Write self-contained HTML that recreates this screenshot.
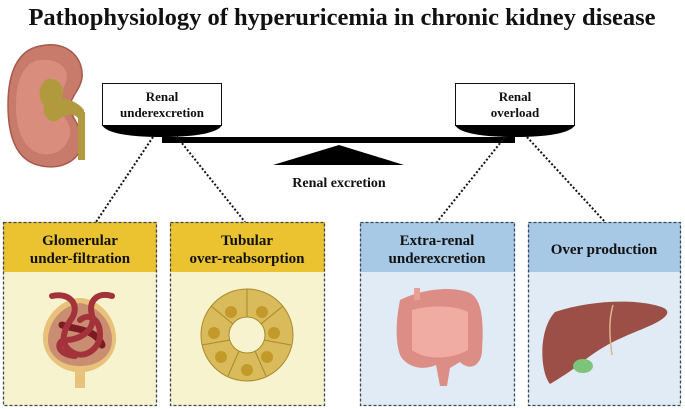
<!DOCTYPE html>
<html><head><style>
html,body{margin:0;padding:0;background:#fff}
svg{display:block}
text{font-family:"Liberation Serif",serif;font-weight:bold;fill:#111}
</style></head><body>
<svg width="685" height="409" viewBox="0 0 685 409">
<text x="342" y="25" text-anchor="middle" font-size="24.5">Pathophysiology of hyperuricemia in chronic kidney disease</text>

<!-- kidney -->
<path d="M40,46 C65,40 84,56 82,78 C80,90 72,95 70,105 C70,118 82,125 82,140 C82,160 62,170 42,166 C18,162 8,140 8,105 C8,72 18,50 40,46Z" fill="#c97b6b" stroke="#a65a4d" stroke-width="1.5"/>
<path d="M40,60 C58,58 70,68 66,82 C62,92 58,100 60,108 C64,118 72,125 70,135 C66,150 54,156 42,154 C24,150 16,132 16,105 C16,80 24,62 40,60Z" fill="#d98d7d"/>
<path d="M45,80 C58,75 66,88 62,98 C70,100 78,102 84,110 L84,158 L78,158 L78,118 C72,112 64,115 58,120 C50,125 42,115 44,105 C38,100 38,88 45,80Z" fill="#b19a3d"/>
<rect x="78" y="112" width="7" height="48" fill="#b19a3d"/>

<!-- balance -->
<rect x="102.5" y="83.5" width="119" height="42" fill="#fff" stroke="#111"/>
<path d="M102,125 L222,125 C218,133 195,137 162,137 C128,137 106,133 102,125Z" fill="#000"/>
<text x="162" y="101" text-anchor="middle" font-size="13">Renal</text>
<text x="162" y="117" text-anchor="middle" font-size="13">underexcretion</text>
<rect x="455.5" y="83.5" width="119" height="42" fill="#fff" stroke="#111"/>
<path d="M455,125 L575,125 C571,133 548,137 515,137 C481,137 459,133 455,125Z" fill="#000"/>
<text x="515" y="101" text-anchor="middle" font-size="13">Renal</text>
<text x="515" y="117" text-anchor="middle" font-size="13">overload</text>
<rect x="162" y="137" width="353" height="6" fill="#000"/>
<polygon points="273,165 339,145 404,165" fill="#000"/>
<text x="339" y="187" text-anchor="middle" font-size="14">Renal excretion</text>

<!-- dotted connectors -->
<g stroke="#111" stroke-width="2" stroke-dasharray="2 2" fill="none">
<line x1="153" y1="137" x2="96" y2="222"/>
<line x1="177" y1="137" x2="245" y2="222"/>
<line x1="505" y1="137" x2="437" y2="222"/>
<line x1="527" y1="137" x2="605" y2="222"/>
</g>

<!-- boxes -->
<g>
<rect x="3" y="222" width="154" height="184" fill="#f8f3cf"/>
<rect x="3" y="222" width="154" height="50" fill="#ebc22f"/>
<rect x="3.5" y="222.5" width="153" height="183" fill="none" stroke="#3b4657" stroke-width="1.3" stroke-dasharray="3 2"/>
<text x="80" y="245" text-anchor="middle" font-size="15">Glomerular</text>
<text x="80" y="263" text-anchor="middle" font-size="15">under-filtration</text>

<rect x="170" y="222" width="155" height="184" fill="#f8f3cf"/>
<rect x="170" y="222" width="155" height="50" fill="#ebc22f"/>
<rect x="170.5" y="222.5" width="154" height="183" fill="none" stroke="#3b4657" stroke-width="1.3" stroke-dasharray="3 2"/>
<text x="247" y="245" text-anchor="middle" font-size="15">Tubular</text>
<text x="247" y="263" text-anchor="middle" font-size="15">over-reabsorption</text>

<rect x="360" y="222" width="155" height="184" fill="#e0ebf5"/>
<rect x="360" y="222" width="155" height="50" fill="#a7c9e6"/>
<rect x="360.5" y="222.5" width="154" height="183" fill="none" stroke="#3b4657" stroke-width="1.3" stroke-dasharray="3 2"/>
<text x="437" y="245" text-anchor="middle" font-size="15">Extra-renal</text>
<text x="437" y="263" text-anchor="middle" font-size="15">underexcretion</text>

<rect x="528" y="222" width="153" height="184" fill="#e0ebf5"/>
<rect x="528" y="222" width="153" height="50" fill="#a7c9e6"/>
<rect x="528.5" y="222.5" width="152" height="183" fill="none" stroke="#3b4657" stroke-width="1.3" stroke-dasharray="3 2"/>
<text x="604" y="254" text-anchor="middle" font-size="15">Over production</text>
</g>

<!-- glomerulus -->
<path d="M78,298 C60,300 42,318 43,340 C44,358 60,370 75,372 L75,388 L85,388 L85,372 C100,370 115,358 116,340 C117,318 100,300 82,298Z" fill="#e8c27a"/>
<path d="M80,303 C64,305 48,320 48,340 C48,356 62,366 80,366 C98,366 112,356 112,340 C112,320 96,305 80,303Z" fill="#c98d72"/>
<g fill="none" stroke-linecap="round">
<path d="M62,325 C75,330 95,328 102,345" stroke="#7d1a22" stroke-width="7"/>
<g stroke="#a3323a" stroke-width="6">
<path d="M52,296 C70,292 80,305 72,318 C62,332 60,345 72,352 C85,360 100,348 100,335 C100,320 90,312 80,320"/>
<path d="M112,296 C98,292 88,300 92,315 C96,330 80,340 65,340 C55,342 58,355 75,356"/>
</g>
</g>

<!-- tubule -->
<circle cx="247" cy="335" r="46" fill="#d9bb5c" stroke="#a8892d"/>
<circle cx="247" cy="335" r="18" fill="#f8f3cf" stroke="#a8892d"/>
<g stroke="#a8892d" stroke-width="1">
<line x1="247" y1="289" x2="247" y2="317"/><line x1="283" y1="306" x2="261" y2="324"/>
<line x1="291" y1="345" x2="264" y2="340"/><line x1="266" y1="376" x2="255" y2="351"/>
<line x1="228" y1="376" x2="239" y2="351"/><line x1="202" y1="345" x2="230" y2="340"/>
<line x1="211" y1="306" x2="233" y2="324"/>
</g>
<g fill="#c39a2a">
<circle cx="231" cy="312" r="6"/><circle cx="262" cy="312" r="6"/><circle cx="274" cy="333" r="6"/>
<circle cx="267" cy="357" r="6"/><circle cx="247" cy="370" r="6"/><circle cx="221" cy="357" r="6"/><circle cx="214" cy="333" r="6"/>
</g>

<!-- intestine -->
<path d="M400,300 C420,290 450,285 470,293 C482,300 484,320 482,350 C482,365 470,372 460,362 L450,368 L447,386 L440,386 L436,365 C420,372 405,365 400,355 C395,340 396,320 400,300Z" fill="#dc8e86"/>
<path d="M412,310 C430,305 455,305 468,312 L468,350 C450,360 425,360 412,350Z" fill="#f0aca2"/>
<rect x="414" y="288" width="6" height="12" fill="#e7a092"/>

<!-- liver -->
<path d="M555,312 C590,300 640,298 664,308 C674,314 660,322 640,330 C615,340 600,348 585,360 C570,372 560,378 550,384 C540,372 538,330 555,312Z" fill="#9b4f46"/>
<ellipse cx="583" cy="366" rx="10" ry="7" fill="#7cc47a"/>
<path d="M613,305 C608,322 610,340 612,355" stroke="#d9b48e" stroke-width="1.5" fill="none"/>
</svg>
</body></html>
